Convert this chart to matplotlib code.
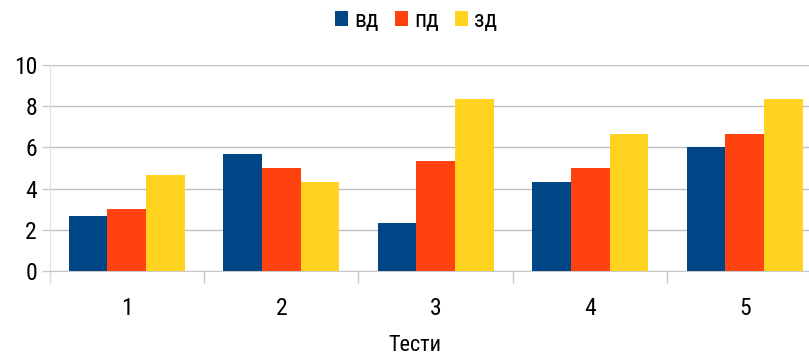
import matplotlib
matplotlib.use("Agg")
import matplotlib.pyplot as plt
import numpy as np

categories = ["1", "2", "3", "4", "5"]
series_names = ["вд", "пд", "зд"]
vd = [2.67, 5.67, 2.33, 4.33, 6.0]
pd_ = [3.0, 5.0, 5.33, 5.0, 6.67]
zd = [4.67, 4.33, 8.33, 6.67, 8.33]
colors = ["#004586", "#ff420e", "#ffd320"]
yticks = [0, 2, 4, 6, 8, 10]

plt.rcParams['font.family'] = ['Roboto Condensed', 'Roboto', 'DejaVu Sans']

W, H = 809, 353
fig = plt.figure(figsize=(W/100, H/100), dpi=100)
ax = fig.add_axes([49.5/W, (H-271)/H, (W-49.5)/W, 206/H])

x = np.arange(1, len(categories)+1)
bw = 0.25
for i, (vals, c, name) in enumerate(zip([vd, pd_, zd], colors, series_names)):
    ax.bar(x + (i-1)*bw, vals, bw, color=c, label=name, zorder=3)

ax.set_yticks(yticks)
ax.set_yticklabels([str(v) for v in yticks], fontsize=17)
ax.set_xticks(x)
ax.set_xticklabels(categories, fontsize=17)
ax.set_xticks(np.arange(0.5, 6, 1), minor=True)
ax.set_ylim(0, 10)
ax.set_xlim(0.5, 0.5 + (W-49.5)/154.5)
ax.tick_params(axis='x', which='major', length=0, pad=19)
ax.tick_params(axis='x', which='minor', length=8.5, color='#c8c8c8', width=1)
ax.tick_params(axis='y', length=6, color='#c8c8c8', width=1, pad=3)
ax.grid(axis='y', color='#c0c0c0', linewidth=1, zorder=0)
for s in ['top', 'right']:
    ax.spines[s].set_visible(False)
ax.spines['bottom'].set_color('#c8c8c8')
ax.spines['left'].set_color('#e0e0e0')
ax.spines['left'].set_bounds(-0.55, 10)
ax.spines['left'].set_clip_on(False)

fig.text(415/W, (H-335)/H, "Тести", fontsize=16, ha='center', va='top')

fig.legend(loc='upper center', bbox_to_anchor=(416/W, 1.035), ncol=3, frameon=False,
           fontsize=17, handlelength=0.55, handleheight=0.6, handletextpad=0.25,
           columnspacing=0.7)

fig.savefig("out.png", dpi=100)
